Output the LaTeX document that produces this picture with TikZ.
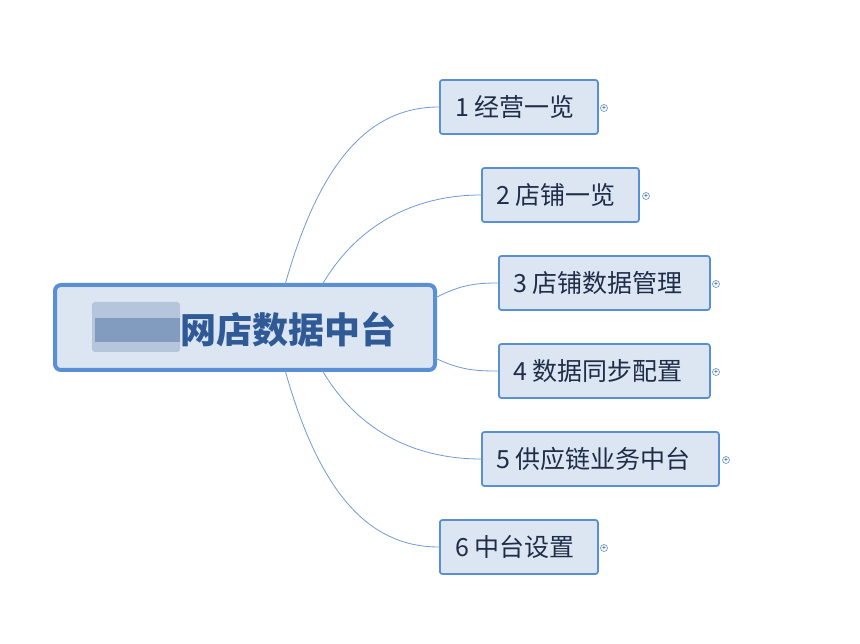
\documentclass[tikz,border=0pt]{standalone}
\usepackage{fontspec}
\setmainfont{Noto Sans CJK SC}
\begin{document}
\begin{tikzpicture}[x=1pt,y=-1pt,
  line/.style={draw=lineblue,line width=0.8pt},
  child/.style={draw=boxblue,line width=1.8pt,fill=boxfill,rounded corners=2.5pt,inner sep=0pt,anchor=west,minimum height=54pt},
  ctext/.style={text=txt,font=\fontsize{25}{28}\selectfont,inner sep=0pt,anchor=west},
  expand/.style={circle,draw=boxblue,line width=0.6pt,fill=white,minimum size=7pt,inner sep=0pt,font=\fontsize{7}{7}\selectfont,text=txt}]
\definecolor{boxblue}{HTML}{5B8FD3}
\definecolor{boxfill}{HTML}{DCE6F3}
\definecolor{lineblue}{HTML}{6F9AD6}
\definecolor{txt}{HTML}{1F2D48}
\definecolor{ctxt}{HTML}{2F5A96}
\useasboundingbox (0,0) rectangle (860,644);
\node[draw=boxblue,line width=4pt,fill=boxfill,rounded corners=6pt,minimum width=380pt,minimum height=85pt,inner sep=0pt] (c) at (245,327.5) {};
\fill[ctxt!40,opacity=0.8,rounded corners=3pt] (92,302) rectangle (180,352);
\fill[ctxt!60] (95,318) rectangle (180,342);
\node[text=ctxt,font=\bfseries\fontsize{36}{40}\selectfont,anchor=west,inner sep=0pt] (ct) at (180,329) {网店数据中台};
\node[child,minimum width=158pt] (n1) at (439,107) {};
\node[child,minimum width=157pt] (n2) at (481,195) {};
\node[child,minimum width=211pt] (n3) at (498,283) {};
\node[child,minimum width=211pt] (n4) at (498,371) {};
\node[child,minimum width=237pt] (n5) at (481,459) {};
\node[child,minimum width=158pt] (n6) at (439,547) {};
\node[ctext] (t1) at (455,107) {1 经营一览};
\node[ctext] (t2) at (496,195) {2 店铺一览};
\node[ctext] (t3) at (513,283) {3 店铺数据管理};
\node[ctext] (t4) at (513,371) {4 数据同步配置};
\node[ctext] (t5) at (496,459) {5 供应链业务中台};
\node[ctext] (t6) at (455,547) {6 中台设置};
\foreach \n/\x/\y in {e1/604/108,e2/646/196,e3/716/284,e4/716/372,e5/726/460,e6/604/548}
  \node[expand] (\n) at (\x,\y) {+};
\coordinate (s1) at (285,285); \coordinate (s2) at (322,285);
\coordinate (s5) at (322,370); \coordinate (s6) at (285,370);
\coordinate (s3) at (435,298); \coordinate (s4) at (435,358);
\draw[line] (s1) .. controls (320,160) and (370,107) .. (n1.west);
\draw[line] (s2) .. controls (360,220) and (420,195) .. (n2.west);
\draw[line] (s3) .. controls (460,285) and (475,283) .. (n3.west);
\draw[line] (s4) .. controls (460,370) and (475,371) .. (n4.west);
\draw[line] (s5) .. controls (360,435) and (420,459) .. (n5.west);
\draw[line] (s6) .. controls (320,495) and (370,547) .. (n6.west);
\end{tikzpicture}
\end{document}
